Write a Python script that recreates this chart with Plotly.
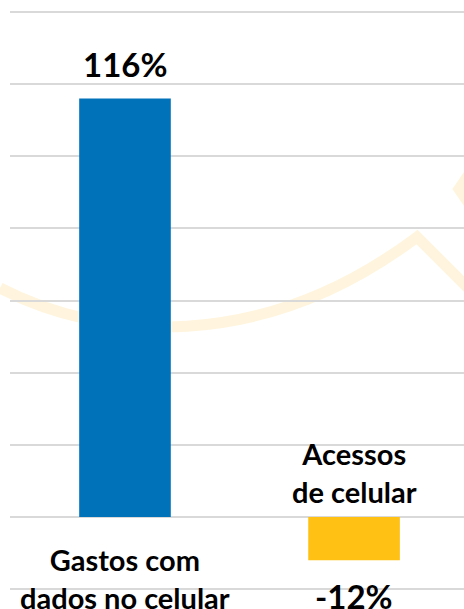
import plotly.graph_objects as go

categories = ["Gastos com<br>dados no celular", "Acessos<br>de celular"]
values = [116, -12]
value_labels = ["116%", "-12%"]
colors = ["#0072BA", "#FFC114"]

W, H = 464, 609
L = 10


def px2paper(px, py):
    return (px - L) / (W - L), 1 - py / H


def path_from(points, cmds):
    parts = []
    i = 0
    for c in cmds:
        if c == "C":
            pts = points[i:i + 3]
            i += 3
            parts.append("C " + " ".join("%.4f,%.4f" % px2paper(*p) for p in pts))
        else:
            x, y = px2paper(*points[i])
            i += 1
            parts.append("%s %.4f,%.4f" % (c, x, y))
    return " ".join(parts)


fig = go.Figure()

fig.add_trace(go.Bar(
    x=[0, 1], y=values,
    marker=dict(color=colors, line=dict(width=0)),
    width=0.4,
    showlegend=False,
    hoverinfo="skip",
))

# marca d'agua (logo ao fundo)
wm = "#FFF5DE"
arc = path_from([(0, 288), (100, 340), (260, 355), (417, 237), (470, 290)],
                ["M", "C", "L"])
chev = path_from([(472, 170), (459, 189), (472, 208)], ["M", "L", "L"])
for p in (arc, chev):
    fig.add_shape(type="path", path=p, xref="paper", yref="paper",
                  line=dict(color=wm, width=11), layer="below")

font_big = dict(family="Lato", size=33, color="#000000")
font_cat = dict(family="Lato", size=29, color="#000000")

# rotulos de valor
for i, (v, t) in enumerate(zip(values, value_labels)):
    fig.add_annotation(x=i, y=v, text="<b>%s</b>" % t, showarrow=False,
                       font=font_big, yanchor="middle",
                       yshift=34 if v > 0 else -36)

# nomes das categorias
for i, (v, c) in enumerate(zip(values, categories)):
    fig.add_annotation(x=i, y=0, text="<b>%s</b>" % c, showarrow=False,
                       font=font_cat, yanchor="middle",
                       yshift=-61 if v > 0 else 45)

fig.update_layout(
    width=W, height=H,
    margin=dict(l=L, r=0, t=0, b=0),
    plot_bgcolor="white", paper_bgcolor="white",
    xaxis=dict(range=[-0.502, 1.48], showticklabels=False, showgrid=False,
               zeroline=False, showline=False),
    yaxis=dict(range=[-25.5, 143.3], dtick=20, tick0=0, showticklabels=False,
               showgrid=True, gridcolor="#D9D9D9", gridwidth=1.5,
               zeroline=True, zerolinecolor="#D9D9D9", zerolinewidth=1.5,
               showline=False),
)

fig.write_html("out.html",
               config=dict(displayModeBar=False),
               post_script="document.body.style.margin='0';"
                           "document.body.style.overflow='hidden';")
